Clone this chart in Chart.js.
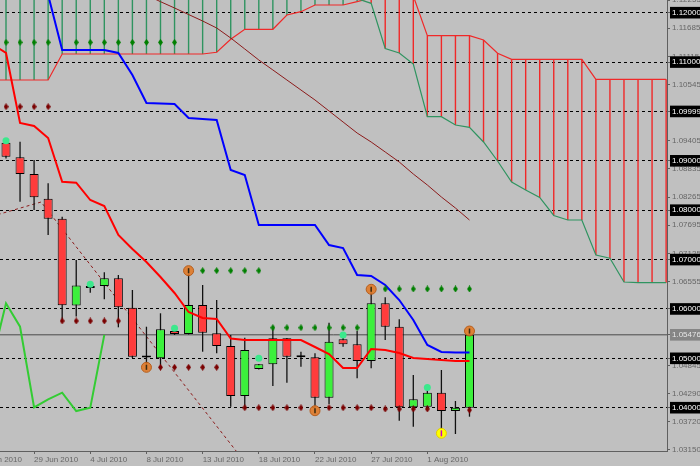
<!DOCTYPE html>
<html>
<head>
<meta charset="utf-8">
<title>Ichimoku daily chart</title>
<script src="https://cdn.jsdelivr.net/npm/chart.js@4.4.1/dist/chart.umd.min.js"></script>
<style>
html,body{margin:0;padding:0;background:#c0c0c0;overflow:hidden}
#wrap{width:700px;height:466px;background:#c0c0c0}
canvas{display:block}
</style>
</head>
<body>
<div id="wrap"><canvas id="chart" width="700" height="466"></canvas></div>
<script>
// ---------- DATA (bar index 0 = 27 Jun 2010) ----------
const dateTickIndex = [-2, 2, 6, 10, 14, 18, 22, 26, 30];
const dateLabels = ['24 Jun 2010','29 Jun 2010','4 Jul 2010','8 Jul 2010','13 Jul 2010','18 Jul 2010','22 Jul 2010','27 Jul 2010','1 Aug 2010'];

// candles, bar index 0..33
const open  = [1.09367,1.09071,1.08733,1.08233,1.07828,1.0607,1.06424,1.06465,1.06621,1.06025,1.05018,1.05,1.05553,1.05493,1.0608,1.05507,1.0525,1.04237,1.04784,1.04879,1.05405,1.05021,1.05021,1.04202,1.05385,1.05284,1.04946,1.06114,1.0564,1.04008,1.0402,1.04304,1.03933,1.04];
const high  = [1.09391,1.09387,1.09017,1.08545,1.07868,1.06991,1.06451,1.06742,1.06687,1.06384,1.0564,1.05912,1.05584,1.06789,1.06485,1.06181,1.05472,1.05418,1.04885,1.05661,1.05411,1.05134,1.05102,1.05721,1.05432,1.05553,1.06418,1.06236,1.0579,1.04662,1.04358,1.04763,1.04136,1.05553];
const low   = [1.09047,1.08172,1.08004,1.07498,1.05776,1.05847,1.06329,1.06195,1.05628,1.05006,1.04763,1.04865,1.05472,1.05483,1.05134,1.05102,1.0402,1.0402,1.04774,1.04439,1.04506,1.0483,1.03919,1.04075,1.05235,1.04595,1.04798,1.05371,1.03737,1.03615,1.04014,1.03481,1.03467,1.03818];
const close = [1.09083,1.08733,1.08261,1.07828,1.06074,1.06475,1.06424,1.06621,1.06033,1.05033,1.05018,1.05588,1.05493,1.0608,1.05519,1.0525,1.04237,1.05168,1.04879,1.05405,1.05033,1.05021,1.04202,1.05337,1.05284,1.04946,1.06114,1.0564,1.04008,1.0417,1.04304,1.03933,1.04,1.05476];

// Tenkan-sen / Kijun-sen, bar index -1..33
const tenkan = [1.11366,1.11184,1.09766,1.09705,1.09462,1.08577,1.08557,1.08206,1.08085,1.07498,1.07214,1.06951,1.06647,1.06323,1.05938,1.05817,1.05796,1.05401,1.05371,1.05371,1.05371,1.05371,1.05371,1.05229,1.05087,1.04804,1.04804,1.05189,1.05168,1.05108,1.05006,1.04986,1.04966,1.04946,1.04946];
const kijun  = [1.1236,1.1236,1.1236,1.1236,1.1236,1.11244,1.11244,1.11244,1.11244,1.11184,1.10738,1.10171,1.1016,1.1015,1.09867,1.09847,1.09827,1.08814,1.08713,1.077,1.077,1.077,1.077,1.077,1.07295,1.07234,1.06687,1.06667,1.06485,1.06181,1.05776,1.0527,1.05128,1.05118,1.05118];

// Senkou spans (cloud), bar index -1..47
const spanA = [1.1245,1.1245,1.1245,1.1245,1.1245,1.1245,1.1245,1.1245,1.1245,1.1245,1.1245,1.1245,1.1245,1.1245,1.1245,1.1245,1.1245,1.1245,1.1245,1.1245,1.1245,1.1245,1.1245,1.1245,1.1245,1.1245,1.12283,1.1219,1.11275,1.11184,1.10961,1.09893,1.09893,1.09725,1.09679,1.09381,1.08996,1.08571,1.08409,1.08257,1.07893,1.07801,1.07801,1.07093,1.07026,1.06546,1.06532,1.06532,1.06532];
const spanB = [1.10637,1.10637,1.10637,1.10637,1.10637,1.11163,1.11163,1.11163,1.11163,1.11163,1.11163,1.11163,1.11163,1.11163,1.11163,1.11163,1.11198,1.11461,1.11664,1.11664,1.11664,1.11953,1.1202,1.12156,1.12156,1.12156,1.12223,1.12298,1.1246,1.1246,1.12338,1.11534,1.11534,1.11534,1.11534,1.11447,1.11178,1.11056,1.11056,1.11056,1.11056,1.11056,1.11056,1.10651,1.10651,1.10651,1.10651,1.10651,1.10651];

// Chikou span, bar index -1..7
const chikou = [1.04946,1.06114,1.0564,1.04008,1.0417,1.04304,1.03933,1.04,1.05476];

// moving average (brown), bar index 10..33
const maLine = [1.12358,1.12223,1.12095,1.11963,1.11832,1.1169,1.11487,1.11265,1.11042,1.1084,1.10637,1.10434,1.10232,1.10009,1.09786,1.09563,1.09381,1.09179,1.08976,1.08733,1.0851,1.08267,1.08044,1.07801];

// dashed trend line anchor points
const trendIdx   = [-1, 2.5, 17];
const trendPrice = [1.07876, 1.08166, 1.029];

// markers, bar index 0..33 (null = none)
const N = null;
const upDiamond   = [1.114,1.114,1.114,1.114,N,1.114,1.114,1.114,1.114,1.114,1.114,1.114,1.114,N,1.06775,1.06775,1.06775,1.06775,1.06775,1.0562,1.0562,1.0562,1.0562,1.0562,1.0562,1.0562,N,1.06404,1.06404,1.06404,1.06404,1.06404,1.06404,1.06404];
const downDiamond = [1.10096,1.10096,1.10096,1.10096,1.05756,1.05756,1.05756,1.05756,1.05756,N,N,1.04818,1.04818,1.04818,1.04818,1.04818,N,1.04,1.04,1.04,1.04,1.04,N,1.04,1.04,1.04,1.04,1.03974,1.03974,1.03974,1.03974,N,N,1.03953];
const weekDot     = [1.09407,N,N,N,N,N,1.065,N,N,N,N,N,1.05608,N,N,N,N,N,1.05,N,N,N,N,N,1.05472,N,N,N,N,N,1.04409,N,N,N];
const signalDot   = [N,N,N,N,N,N,N,N,N,N,1.04818,N,N,1.06775,N,N,N,N,N,N,N,N,1.03939,N,N,N,1.06398,N,N,N,N,N,N,1.05553];
const dollarDot   = [N,N,N,N,N,N,N,N,N,N,N,N,N,N,N,N,N,N,N,N,N,N,N,N,N,N,N,N,N,N,N,1.03481,N,N];

// price axis
const levelPrices = [1.12,1.11,1.10,1.09,1.08,1.07,1.06,1.05,1.04];
const levelLabels = ['1.12000','1.11000','1.09999','1.09000','1.08000','1.07000','1.06000','1.05000','1.04000'];
const scalePrices = [1.12255,1.11685,1.11115,1.10545,1.09405,1.08835,1.08265,1.07695,1.07125,1.06555,1.04845,1.0429,1.0372,1.0315];
const scaleLabels = ['1.12255','1.11685','1.11115','1.10545','1.09405','1.08835','1.08265','1.07695','1.07125','1.06555','1.04845','1.04290','1.03720','1.03150'];
const bidPrice = 1.05476;
const bidLabel = '1.05476';

// ---------- STYLE ----------
const AXIS = '#5f5f5f', TXT = '#666666', FONT = 'Liberation Sans';
const RED = '#ff3c3c', GREEN = '#3cf03c';
const CLOUD_UP = '#2f9460', CLOUD_DN = '#f02828';
const X_MIN = -0.4272, X_MAX = 47.063, Y_MIN = 1.03123, Y_MAX = 1.12257;

const candleIdx = open.map((_, i) => i);
const lineIdx   = tenkan.map((_, i) => i - 1);
const cloudIdx  = spanA.map((_, i) => i - 1);
const chikouIdx = chikou.map((_, i) => i - 1);
const maIdx     = maLine.map((_, i) => i + 10);
const xy = (xs, ys) => xs.map((x, i) => ({x, y: ys[i]})).filter(p => p.y !== null && p.y !== undefined);

function diamond(color) {
  const c = document.createElement('canvas'); c.width = 5; c.height = 7;
  const g = c.getContext('2d'); g.fillStyle = color;
  g.beginPath(); g.moveTo(2.5, 0); g.lineTo(5, 3.5); g.lineTo(2.5, 7); g.lineTo(0, 3.5); g.closePath(); g.fill();
  return c;
}

const yTicks = scalePrices.concat(levelPrices, [bidPrice]);
const yLabels = scaleLabels.concat(levelLabels, [bidLabel]);
const kindOf = v => levelPrices.includes(v) ? 'level' : (v === bidPrice ? 'bid' : 'scale');

const lineBase = {type: 'line', pointRadius: 0, tension: 0, fill: false, clip: 0};
const barBase = {type: 'bar', grouped: false, inflateAmount: 0, borderSkipped: false, clip: 0};

new Chart(document.getElementById('chart'), {
  type: 'line',
  data: {
    datasets: [
      // signal glyphs
      {type: 'scatter', data: xy(candleIdx, signalDot), pointStyle: 'line', rotation: 90, radius: 2.5, borderColor: '#3a2a10', borderWidth: 1.5, order: 0},
      {type: 'scatter', data: xy(candleIdx, dollarDot), pointStyle: 'line', rotation: 90, radius: 3, borderColor: '#c800c8', borderWidth: 1.5, order: 0},
      {type: 'scatter', data: xy(candleIdx, signalDot), pointStyle: 'circle', radius: 5, backgroundColor: 'rgba(224,122,40,0.9)', borderColor: '#b55d1c', borderWidth: 1, order: 1},
      {type: 'scatter', data: xy(candleIdx, dollarDot), pointStyle: 'circle', radius: 5, backgroundColor: '#ffff00', borderColor: '#e0cc00', borderWidth: 1, order: 1},
      {type: 'scatter', data: xy(candleIdx, weekDot), pointStyle: 'circle', radius: 3.5, backgroundColor: '#3ce88c', borderWidth: 0, order: 2},
      {type: 'scatter', data: xy(candleIdx, upDiamond), pointStyle: diamond('#008000'), order: 2},
      {type: 'scatter', data: xy(candleIdx, downDiamond), pointStyle: diamond('#7a0000'), order: 2},
      // Kijun & Tenkan
      Object.assign({}, lineBase, {data: xy(lineIdx, kijun), borderColor: '#0000ff', borderWidth: 2, order: 3}),
      Object.assign({}, lineBase, {data: xy(lineIdx, tenkan), borderColor: '#ff0000', borderWidth: 2, order: 3}),
      // candles
      Object.assign({}, barBase, {data: candleIdx.map(i => ({x: i, y: [open[i], close[i]]})),
        backgroundColor: candleIdx.map(i => close[i] > open[i] ? GREEN : (close[i] < open[i] ? RED : '#000')),
        borderColor: '#000', borderWidth: 1, barThickness: 9, minBarLength: 2, order: 6}),
      Object.assign({}, barBase, {data: candleIdx.map(i => ({x: i, y: [low[i], high[i]]})),
        backgroundColor: '#111111', borderWidth: 0, barThickness: 1.3, order: 7}),
      // Chikou
      Object.assign({}, lineBase, {data: xy(chikouIdx, chikou), borderColor: '#33cc33', borderWidth: 2, order: 8}),
      // trend line & MA
      Object.assign({}, lineBase, {data: xy(trendIdx, trendPrice), borderColor: '#8b1a1a', borderWidth: 1, borderDash: [3, 3], order: 9}),
      Object.assign({}, lineBase, {data: xy(maIdx, maLine), borderColor: '#8b1a1a', borderWidth: 1, order: 9}),
      // cloud edges
      Object.assign({}, lineBase, {data: xy(cloudIdx, spanA), borderColor: CLOUD_UP, borderWidth: 1.2, order: 10}),
      Object.assign({}, lineBase, {data: xy(cloudIdx, spanB), borderColor: CLOUD_DN, borderWidth: 1.2, order: 10}),
      // cloud hatching
      Object.assign({}, barBase, {data: cloudIdx.map((x, k) => ({x, y: [spanA[k], spanB[k]]})),
        backgroundColor: cloudIdx.map((x, k) => spanA[k] > spanB[k] ? CLOUD_UP : CLOUD_DN),
        borderWidth: 0, barThickness: 1.4, order: 11}),
      // bid line
      Object.assign({}, lineBase, {data: [{x: X_MIN - 1, y: bidPrice}, {x: X_MAX + 1, y: bidPrice}], borderColor: '#4a4a4a', borderWidth: 1, order: 12})
    ]
  },
  options: {
    responsive: false,
    animation: false,
    events: [],
    devicePixelRatio: 1,
    layout: {padding: 0, autoPadding: false},
    plugins: {legend: {display: false}, tooltip: {enabled: false}},
    scales: {
      x: {
        type: 'linear', min: X_MIN, max: X_MAX, offset: false,
        afterBuildTicks: s => { s.ticks = dateTickIndex.map(v => ({value: v})); },
        afterFit: s => { s.height = 15; s.paddingLeft = 0; s.paddingRight = 0; },
        grid: {display: true, drawOnChartArea: false, drawTicks: true, tickLength: 3, tickColor: AXIS, offset: false},
        border: {display: true, color: AXIS, width: 1},
        ticks: {autoSkip: false, maxRotation: 0, minRotation: 0, align: 'start', padding: 1, color: TXT,
          font: {family: FONT, size: 8}, callback: (v, i) => dateLabels[i]}
      },
      y: {
        type: 'linear', position: 'right', min: Y_MIN, max: Y_MAX, beginAtZero: false,
        afterBuildTicks: s => { s.ticks = yTicks.map(v => ({value: v})); },
        afterFit: s => { s.width = 33; s.paddingTop = 0; s.paddingBottom = 0; },
        grid: {
          color: c => (c.tick && kindOf(c.tick.value) === 'level') ? '#000' : 'rgba(0,0,0,0)',
          lineWidth: 1, drawTicks: true, tickLength: 3, tickColor: AXIS
        },
        border: {display: true, color: AXIS, width: 1, dash: [3, 3]},
        ticks: {
          autoSkip: false, padding: 2,
          font: {family: FONT, size: 8},
          callback: (v, i) => yLabels[i],
          color: c => { const k = kindOf(c.tick.value); return k === 'level' ? '#ffffff' : (k === 'bid' ? '#e6e6e6' : TXT); },
          showLabelBackdrop: c => kindOf(c.tick.value) !== 'scale',
          backdropColor: c => kindOf(c.tick.value) === 'level' ? '#000000' : '#858585',
          backdropPadding: {top: 1, bottom: 1, left: 2, right: 4}
        }
      }
    }
  }
});
</script>
</body>
</html>
